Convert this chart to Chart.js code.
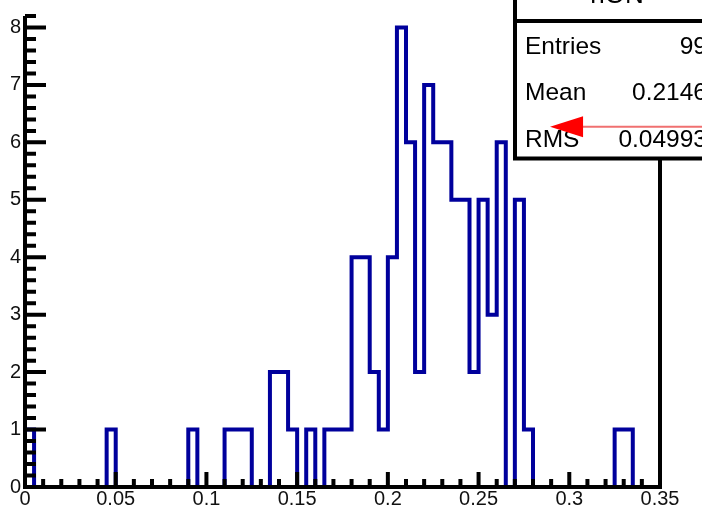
<!DOCTYPE html>
<html>
<head>
<meta charset="utf-8">
<title>hON</title>
<script src="https://cdn.jsdelivr.net/npm/chart.js@4.4.0/dist/chart.umd.min.js"></script>
<style>
  html, body { margin: 0; padding: 0; background: #fff; }
  canvas { display: block; }
</style>
</head>
<body>
<canvas id="myChart" width="702" height="509"></canvas>
<script>
// histogram: 70 bins of 0.005 between 0 and 0.35
let binLow = 0
let binWidth = 0.005
let counts = [
    1, 0, 0, 0, 0, 0, 0, 0, 0, 1,   // 0.00 - 0.05
    0, 0, 0, 0, 0, 0, 0, 0, 1, 0,   // 0.05 - 0.10
    0, 0, 1, 1, 1, 0, 0, 2, 2, 1,   // 0.10 - 0.15
    0, 1, 0, 1, 1, 1, 4, 4, 2, 1,   // 0.15 - 0.20
    4, 8, 6, 2, 7, 6, 6, 5, 5, 2,   // 0.20 - 0.25
    5, 3, 6, 0, 5, 1, 0, 0, 0, 0,   // 0.25 - 0.30
    0, 0, 0, 0, 0, 1, 1, 0, 0, 0    // 0.30 - 0.35
]

let xTicks = [0, 0.05, 0.1, 0.15, 0.2, 0.25, 0.3, 0.35]
let xTickLabels = ['0', '0.05', '0.1', '0.15', '0.2', '0.25', '0.3', '0.35']
let yTicks = [0, 1, 2, 3, 4, 5, 6, 7, 8]
let yTickLabels = ['0', '1', '2', '3', '4', '5', '6', '7', '8']

// stats box
let histTitle = 'hON'
let statNames = ['Entries', 'Mean', 'RMS']
let statValues = ['99', '0.2146', '0.04993']

// red arrow (data coordinates, tip then tail)
let arrowTip = [0.2894, 6.27]
let arrowTail = [0.39, 6.27]

// setup block
let points = [{x: binLow, y: 0}]
counts.forEach(function(c, i){
    points.push({x: binLow + i * binWidth, y: c})
})
points.push({x: binLow + counts.length * binWidth, y: 0})

let font = '"Liberation Sans", Arial, Helvetica, sans-serif'

// axes drawn like ROOT: thick frame, ticks pointing inward, stats box on top
let rootFrame = {
    id: 'rootFrame',
    afterDatasetsDraw(chart) {
        let ctx = chart.ctx
        let area = chart.chartArea
        let xs = chart.scales.x
        let ys = chart.scales.y
        ctx.save()
        ctx.strokeStyle = '#000'
        ctx.lineWidth = 4
        ctx.lineCap = 'butt'
        ctx.lineJoin = 'miter'

        ctx.beginPath()
        ctx.moveTo(area.left, area.top)
        ctx.lineTo(area.left, area.bottom)
        ctx.lineTo(area.right, area.bottom)
        ctx.lineTo(area.right, area.top)
        ctx.stroke()

        // y ticks: major every 1, minor every 0.2
        ctx.beginPath()
        for (let k = 0; k * 0.2 <= ys.max + 1e-9; k++) {
            let y = ys.getPixelForValue(k * 0.2)
            let len = (k % 5 == 0) ? 21 : 11
            ctx.moveTo(area.left, y)
            ctx.lineTo(area.left + len, y)
        }
        // x ticks: major every 0.05, minor every 0.01
        for (let k = 0; k * 0.01 <= xs.max + 1e-9; k++) {
            let x = xs.getPixelForValue(k * 0.01)
            let len = (k % 5 == 0) ? 15 : 8
            ctx.moveTo(x, area.bottom)
            ctx.lineTo(x, area.bottom - len)
        }
        ctx.stroke()

        // stats box
        let bx = 515, by = 21, bb = 158.5
        ctx.fillStyle = '#fff'
        ctx.fillRect(bx, -10, chart.width - bx + 10, bb + 10)
        ctx.beginPath()
        ctx.moveTo(bx, -5)
        ctx.lineTo(bx, bb)
        ctx.lineTo(chart.width + 5, bb)
        ctx.moveTo(bx, by)
        ctx.lineTo(chart.width + 5, by)
        ctx.stroke()

        ctx.fillStyle = '#000'
        ctx.font = '26px ' + font
        ctx.textAlign = 'center'
        ctx.textBaseline = 'alphabetic'
        ctx.fillText(histTitle, 617, 3)

        ctx.font = '24.5px ' + font
        let rows = [54, 100, 146.7]
        statNames.forEach(function(name, i){
            ctx.textAlign = 'left'
            ctx.fillText(name, 525, rows[i])
            ctx.textAlign = 'right'
            ctx.fillText(statValues[i], 707, rows[i])
        })

        // arrow
        let tx = xs.getPixelForValue(arrowTip[0])
        let ty = ys.getPixelForValue(arrowTip[1])
        let ex = xs.getPixelForValue(arrowTail[0])
        ctx.strokeStyle = '#f07070'
        ctx.lineWidth = 2
        ctx.beginPath()
        ctx.moveTo(tx + 30, ty)
        ctx.lineTo(ex, ty)
        ctx.stroke()
        ctx.fillStyle = '#ff0000'
        ctx.beginPath()
        ctx.moveTo(tx, ty)
        ctx.lineTo(tx + 33, ty - 10.5)
        ctx.lineTo(tx + 33, ty + 10.5)
        ctx.closePath()
        ctx.fill()
        ctx.restore()
    }
}

// config block
let config = {
    type: 'line',
    data: {
        datasets: [{
            data: points,
            stepped: true,
            borderColor: '#00009c',
            borderWidth: 4,
            borderJoinStyle: 'miter',
            pointRadius: 0,
            fill: false,
            tension: 0
        }]
    },
    options: {
        responsive: false,
        animation: false,
        devicePixelRatio: 1,
        layout: { padding: { top: 9, right: 42, left: 0, bottom: 0 } },
        plugins: {
            legend: { display: false },
            tooltip: { enabled: false }
        },
        scales: {
            x: {
                type: 'linear',
                min: 0,
                max: 0.35,
                afterBuildTicks: function(scale) {
                    scale.ticks = xTicks.map(v => ({value: v}))
                },
                afterFit: function(scale) { scale.height = 22 },
                grid: { display: false, drawTicks: false },
                border: { display: false },
                ticks: {
                    autoSkip: false,
                    maxRotation: 0,
                    padding: 0,
                    color: '#111',
                    font: { family: font, size: 20 },
                    callback: function(v) {
                        let i = xTicks.findIndex(t => Math.abs(t - v) < 1e-9)
                        return i >= 0 ? xTickLabels[i] : ''
                    }
                }
            },
            y: {
                type: 'linear',
                min: 0,
                max: 8.2,
                afterBuildTicks: function(scale) {
                    scale.ticks = yTicks.map(v => ({value: v}))
                },
                afterFit: function(scale) { scale.width = 25 },
                grid: { display: false, drawTicks: false },
                border: { display: false },
                ticks: {
                    padding: 4,
                    color: '#111',
                    font: { family: font, size: 20 },
                    callback: function(v) {
                        let i = yTicks.indexOf(v)
                        return i >= 0 ? yTickLabels[i] : ''
                    }
                }
            }
        }
    },
    plugins: [rootFrame]
}

// init block
let myChart = new Chart(document.getElementById('myChart'), config)
</script>
</body>
</html>
